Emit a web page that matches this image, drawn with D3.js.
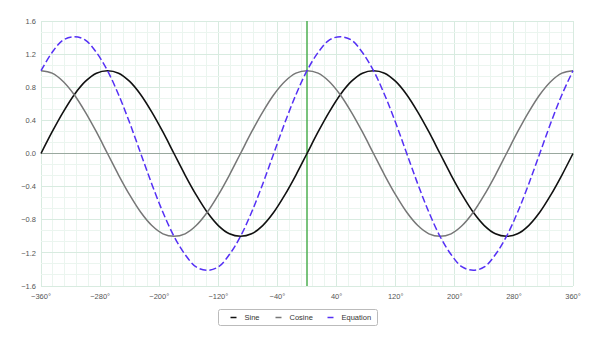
<!DOCTYPE html>
<html>
<head>
<meta charset="utf-8">
<script src="https://cdn.jsdelivr.net/npm/d3@7"></script>
<style>
  body { margin: 0; background: #fff; }
  #chart text { font-family: "Liberation Sans", Arial, sans-serif; }
</style>
</head>
<body>
<div id="chart"></div>
<script>
// angles in degrees, sampled every 15 degrees
const angles = d3.range(-360, 361, 15);

// values
const sineValues = [
  0, 0.26, 0.5, 0.71, 0.87, 0.97, 1, 0.97, 0.87, 0.71, 0.5, 0.26,
  0, -0.26, -0.5, -0.71, -0.87, -0.97, -1, -0.97, -0.87, -0.71, -0.5, -0.26,
  0, 0.26, 0.5, 0.71, 0.87, 0.97, 1, 0.97, 0.87, 0.71, 0.5, 0.26,
  0, -0.26, -0.5, -0.71, -0.87, -0.97, -1, -0.97, -0.87, -0.71, -0.5, -0.26, 0
];
const cosineValues = [
  1, 0.97, 0.87, 0.71, 0.5, 0.26, 0, -0.26, -0.5, -0.71, -0.87, -0.97,
  -1, -0.97, -0.87, -0.71, -0.5, -0.26, 0, 0.26, 0.5, 0.71, 0.87, 0.97,
  1, 0.97, 0.87, 0.71, 0.5, 0.26, 0, -0.26, -0.5, -0.71, -0.87, -0.97,
  -1, -0.97, -0.87, -0.71, -0.5, -0.26, 0, 0.26, 0.5, 0.71, 0.87, 0.97, 1
];
const equationValues = [
  1, 1.22, 1.37, 1.41, 1.37, 1.22, 1, 0.71, 0.37, 0, -0.37, -0.71,
  -1, -1.22, -1.37, -1.41, -1.37, -1.22, -1, -0.71, -0.37, 0, 0.37, 0.71,
  1, 1.22, 1.37, 1.41, 1.37, 1.22, 1, 0.71, 0.37, 0, -0.37, -0.71,
  -1, -1.22, -1.37, -1.41, -1.37, -1.22, -1, -0.71, -0.37, 0, 0.37, 0.71, 1
];

const xTicks = [-360, -280, -200, -120, -40, 40, 120, 200, 280, 360];
const yTicks = [-1.6, -1.2, -0.8, -0.4, 0, 0.4, 0.8, 1.2, 1.6];
const seriesNames = ["Sine", "Cosine", "Equation"];

const width = 601, height = 338;
const margin = { top: 21, right: 28, bottom: 52, left: 41 };

const svg = d3.select("#chart").append("svg")
  .attr("width", width)
  .attr("height", height);

const x = d3.scaleLinear().domain([-360, 360]).range([margin.left, width - margin.right]);
const y = d3.scaleLinear().domain([-1.6, 1.6]).range([height - margin.bottom, margin.top]);

// grid: minor lines every 16 degrees / every 0.4/3
const grid = svg.append("g");
grid.selectAll(".vminor")
  .data(d3.range(0, 46).map(i => -360 + i * 16))
  .enter().append("line")
  .attr("x1", d => x(d)).attr("x2", d => x(d))
  .attr("y1", y(-1.6)).attr("y2", y(1.6))
  .attr("stroke", d => (d + 360) % 80 === 0 ? "#d8ebe0" : "#ebf5ef")
  .attr("stroke-width", 1)
  .attr("shape-rendering", "crispEdges");
grid.selectAll(".hminor")
  .data(d3.range(0, 25))
  .enter().append("line")
  .attr("x1", x(-360)).attr("x2", x(360))
  .attr("y1", i => y(-1.6 + i * 0.4 / 3)).attr("y2", i => y(-1.6 + i * 0.4 / 3))
  .attr("stroke", i => i % 3 === 0 ? "#d8ebe0" : "#ebf5ef")
  .attr("stroke-width", 1)
  .attr("shape-rendering", "crispEdges");

// zero line and x=0 line
svg.append("line")
  .attr("x1", x(-360)).attr("x2", x(360))
  .attr("y1", y(0)).attr("y2", y(0))
  .attr("stroke", "#9aa89f").attr("stroke-width", 1)
  .attr("shape-rendering", "crispEdges");
svg.append("line")
  .attr("x1", x(0)).attr("x2", x(0))
  .attr("y1", y(-1.6)).attr("y2", y(1.6))
  .attr("stroke", "#4caf50").attr("stroke-width", 1.5);

// tick labels
const fmtY = d => (d < 0 ? "\u2212" : "") + Math.abs(d).toFixed(1);
const fmtX = d => (d < 0 ? "\u2212" : "") + Math.abs(d) + "\u00b0";

svg.append("g").selectAll("text")
  .data(yTicks)
  .enter().append("text")
  .attr("x", margin.left - 5)
  .attr("y", d => y(d))
  .attr("dy", "0.35em")
  .attr("text-anchor", "end")
  .attr("font-size", "7.5px")
  .attr("fill", "#555")
  .text(fmtY);

svg.append("g").selectAll("text")
  .data(xTicks)
  .enter().append("text")
  .attr("x", d => x(d))
  .attr("y", height - margin.bottom + 13)
  .attr("text-anchor", "middle")
  .attr("font-size", "7.5px")
  .attr("fill", "#555")
  .text(fmtX);

// curves
const line = d3.line()
  .x(d => x(d[0]))
  .y(d => y(d[1]))
  .curve(d3.curveCatmullRom.alpha(0.5));

const series = [
  { name: "Sine", values: sineValues, color: "#111", dash: null, w: 1.6 },
  { name: "Cosine", values: cosineValues, color: "#777", dash: null, w: 1.5 },
  { name: "Equation", values: equationValues, color: "#5530f5", dash: "7,3", w: 1.5 }
];

svg.append("g").selectAll("path")
  .data(series)
  .enter().append("path")
  .attr("d", s => line(angles.map((a, i) => [a, s.values[i]])))
  .attr("fill", "none")
  .attr("stroke", s => s.color)
  .attr("stroke-width", s => s.w)
  .attr("stroke-dasharray", s => s.dash);

// legend
const legend = svg.append("g").attr("transform", "translate(218.5,309.5)");
legend.append("rect")
  .attr("width", 159).attr("height", 16)
  .attr("rx", 2)
  .attr("fill", "#fff")
  .attr("stroke", "#bbb");
const itemX = [12, 57, 109];
const items = legend.selectAll(".item")
  .data(series)
  .enter().append("g")
  .attr("transform", (d, i) => `translate(${itemX[i]},0)`);
items.append("line")
  .attr("x1", 0).attr("x2", 6)
  .attr("y1", 8).attr("y2", 8)
  .attr("stroke", d => d.color).attr("stroke-width", 1.5);
items.append("text")
  .attr("x", 14).attr("y", 8).attr("dy", "0.35em")
  .attr("font-size", "7.5px")
  .attr("fill", "#333")
  .text(d => d.name);
</script>
</body>
</html>
